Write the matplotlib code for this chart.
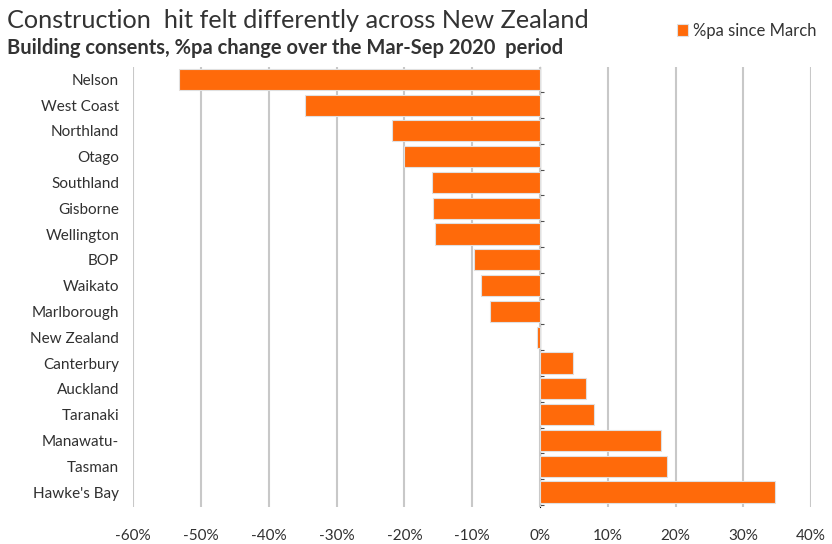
import matplotlib
matplotlib.use("Agg")
import matplotlib.pyplot as plt
import numpy as np

regions = ["Nelson", "West Coast", "Northland", "Otago", "Southland", "Gisborne",
           "Wellington", "BOP", "Waikato", "Marlborough", "New Zealand", "Canterbury",
           "Auckland", "Taranaki", "Manawatu-", "Tasman", "Hawke's Bay"]
pct_change = [-53.2, -34.7, -21.8, -20.1, -15.9, -15.8, -15.5, -9.7, -8.7, -7.3,
              -0.5, 4.9, 6.8, 8.0, 17.9, 18.7, 34.7]
xticks = [-60, -50, -40, -30, -20, -10, 0, 10, 20, 30, 40]
xticklabels = [f"{v}%" for v in xticks]

plt.rcParams['font.family'] = ['Lato', 'DejaVu Sans']

fig = plt.figure(figsize=(8.32, 5.44), dpi=100)
ax = fig.add_axes([0.16, 0.068, 0.815, 0.809])

y = np.arange(len(regions))
orange = "#FF6A0A"
ax.barh(y, pct_change, height=0.82, color=orange, edgecolor="#E0E0E0", linewidth=0.8,
        zorder=3, label="%pa since March")

ax.set_xlim(-60, 40)
ax.set_ylim(len(regions) - 0.42, -0.48)
ax.set_xticks(xticks)
ax.set_xticklabels(xticklabels)
ax.set_yticks(y)
ax.set_yticklabels(regions)
ax.tick_params(axis="y", length=0, pad=10, labelsize=11, labelcolor="#303030")
ax.tick_params(axis="x", length=0, pad=16, labelsize=11, labelcolor="#303030")
ax.grid(axis="x", color="#C8C8C8", linewidth=1.5, zorder=0)
for s in ax.spines.values():
    s.set_visible(False)

sec = ax.secondary_yaxis(0.6)
sec.set_yticks(np.arange(len(regions) + 1) - 0.5)
sec.set_yticklabels([])
sec.tick_params(length=3, direction="out", color="#505050")
sec.spines["left"].set_color("#505050")
sec.spines["left"].set_linewidth(1.0)

fig.text(0.009, 0.962, "Construction  hit felt differently across New Zealand",
         fontsize=18.2, color="#333333", va="center", ha="left")
fig.text(0.009, 0.912, "Building consents, %pa change over the Mar-Sep 2020  period",
         fontsize=14.5, fontweight="bold", color="#333333", va="center", ha="left")

fig.legend(loc="upper right", bbox_to_anchor=(1.0, 0.985), frameon=False,
           fontsize=12, handlelength=0.7, handleheight=0.7, handletextpad=0.3,
           labelcolor="#333333")

fig.savefig("out.png", dpi=100)
